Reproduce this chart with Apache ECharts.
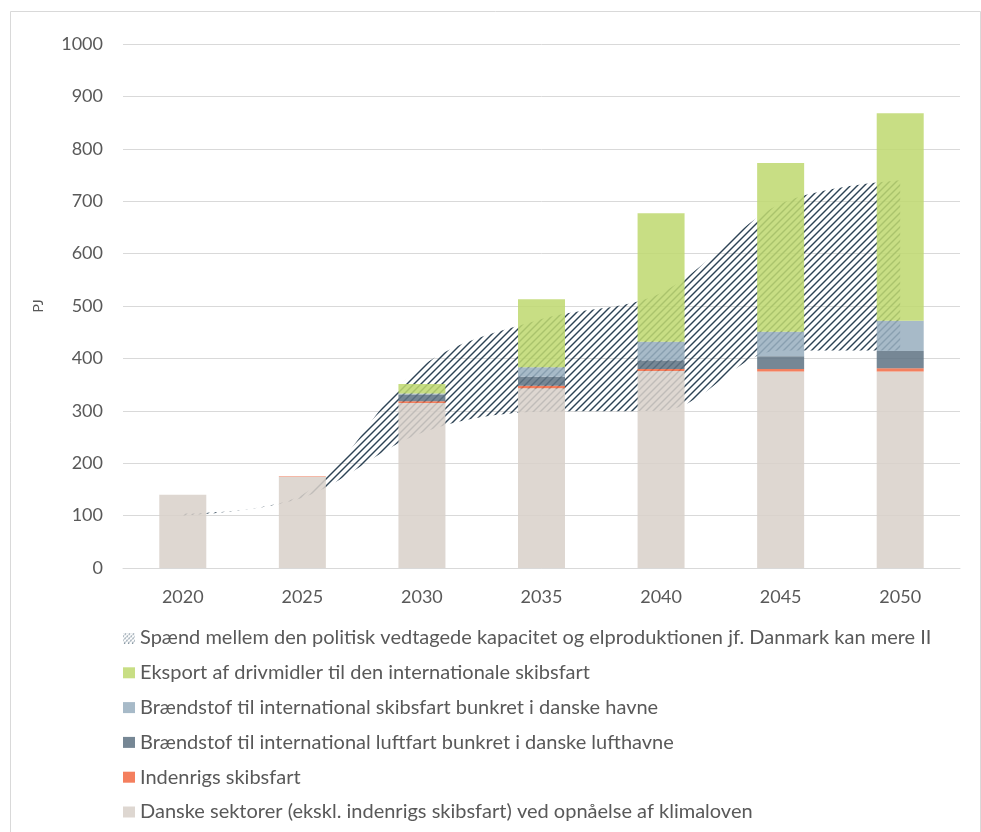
<!DOCTYPE html>
<html>
<head>
<meta charset="utf-8">
<script src="https://cdn.jsdelivr.net/npm/echarts@6/dist/echarts.min.js"></script>
<style>
html,body{margin:0;padding:0;background:#fff;}
#chart{width:981px;height:832px;}
</style>
</head>
<body>
<div id="chart"></div>
<script>
// ---- data ----
const categories = ['2020','2025','2030','2035','2040','2045','2050'];
const danske     = [140, 174, 315, 343, 376, 375, 375];
const indenrigs  = [0, 1, 3, 5, 4, 5, 6];
const luftfart   = [0, 0, 13, 17, 16, 24, 33];
const skibsfart  = [0, 0, 2, 18, 36, 47, 58];
const eksport    = [0, 0, 18, 130, 245, 322, 396];
const bandLower  = [100, 134, 258, 298, 300, 415, 415];
const bandUpper  = [104, 140, 385, 475, 525, 695, 740];

const names = {
  band: 'Spænd mellem den politisk vedtagede kapacitet og elproduktionen jf. Danmark kan mere II',
  eksport: 'Eksport af drivmidler til den internationale skibsfart',
  skibsfart: 'Brændstof til international skibsfart bunkret i danske havne',
  luftfart: 'Brændstof til international luftfart bunkret i danske lufthavne',
  indenrigs: 'Indenrigs skibsfart',
  danske: 'Danske sektorer (ekskl. indenrigs skibsfart) ved opnåelse af klimaloven'
};

// hatch pattern
function hatchCanvas(w, h, step, color, lw, dash) {
  const c = document.createElement('canvas');
  c.width = w; c.height = h;
  const ctx = c.getContext('2d');
  ctx.strokeStyle = color; ctx.lineWidth = lw; ctx.lineCap = 'butt';
  if (dash) ctx.setLineDash(dash);
  for (let k = -h; k < w + h; k += step) {
    ctx.beginPath();
    ctx.moveTo(k - 2, h + 2);
    ctx.lineTo(k + h + 2, -2);
    ctx.stroke();
  }
  return c;
}
const tile = hatchCanvas(7, 7, 7, '#2d4355', 1.45);
const iconCanvas = hatchCanvas(12, 11, 4, '#7f909d', 1.1, [2, 1]);
const iconUrl = 'image://' + iconCanvas.toDataURL();

const textColor = '#595959';
const font = 'Lato, "Open Sans", sans-serif';

const chart = echarts.init(document.getElementById('chart'), null, {renderer: 'canvas'});
const barW = 47;
const barOpacity = 0.86;
function barSeries(key, data, color, z) {
  return {
    name: names[key], type: 'bar', stack: 'total', data: data,
    barWidth: barW, z: z,
    itemStyle: {color: color, opacity: barOpacity},
    emphasis: {disabled: true}
  };
}

const option = {
  animation: false,
  backgroundColor: '#fff',
  textStyle: {fontFamily: font},
  graphic: [{
    type: 'rect', left: 8, top: 9, z: -10,
    shape: {x: 0, y: 0, width: 970, height: 830},
    style: {fill: 'none', stroke: '#d9d9d9', lineWidth: 1}
  }],
  grid: {left: 123, right: 21, top: 44, bottom: 264, containLabel: false},
  legend: {
    orient: 'vertical', left: 123, top: 627, padding: 0,
    itemWidth: 12, itemHeight: 11, itemGap: 12.8,
    textStyle: {color: textColor, fontSize: 20, lineHeight: 22, fontFamily: font},
    data: [
      {name: names.band, icon: iconUrl},
      {name: names.eksport, icon: 'rect'},
      {name: names.skibsfart, icon: 'rect'},
      {name: names.luftfart, icon: 'rect'},
      {name: names.indenrigs, icon: 'rect'},
      {name: names.danske, icon: 'rect'}
    ],
    selectedMode: false
  },
  xAxis: {
    type: 'category', data: categories,
    axisLine: {lineStyle: {color: '#d9d9d9', width: 1}},
    axisTick: {show: false},
    axisLabel: {color: textColor, fontSize: 18, margin: 20, fontFamily: font}
  },
  yAxis: {
    type: 'value', min: 0, max: 1000, interval: 100,
    name: 'PJ', nameLocation: 'middle', nameGap: 78, nameRotate: 90,
    nameTextStyle: {color: textColor, fontSize: 14, fontFamily: font},
    axisLine: {show: false}, axisTick: {show: false},
    axisLabel: {color: textColor, fontSize: 18, margin: 20, fontFamily: font,
      formatter: function (v) { return String(v); }},
    splitLine: {lineStyle: {color: '#d9d9d9', width: 1}}
  },
  series: [
    {
      name: 'bandLower', type: 'line', stack: 'band', data: bandLower,
      smooth: 0.35, symbol: 'none', lineStyle: {width: 0, opacity: 0},
      areaStyle: {opacity: 0}, z: 1, silent: true
    },
    {
      name: names.band, type: 'line', stack: 'band',
      data: bandUpper.map((v, i) => v - bandLower[i]),
      smooth: 0.35, symbol: 'none', lineStyle: {width: 0, opacity: 0},
      itemStyle: {color: '#7d8f9c'},
      areaStyle: {color: {image: tile, repeat: 'repeat'}, opacity: 1}, z: 1, silent: true
    },
    barSeries('danske', danske, '#d8d1ca', 2),
    barSeries('indenrigs', indenrigs, '#f26a43', 2),
    barSeries('luftfart', luftfart, '#5f7383', 2),
    barSeries('skibsfart', skibsfart, '#98afbf', 2),
    barSeries('eksport', eksport, '#bfd870', 2)
  ]
};
chart.setOption(option);
</script>
</body>
</html>
